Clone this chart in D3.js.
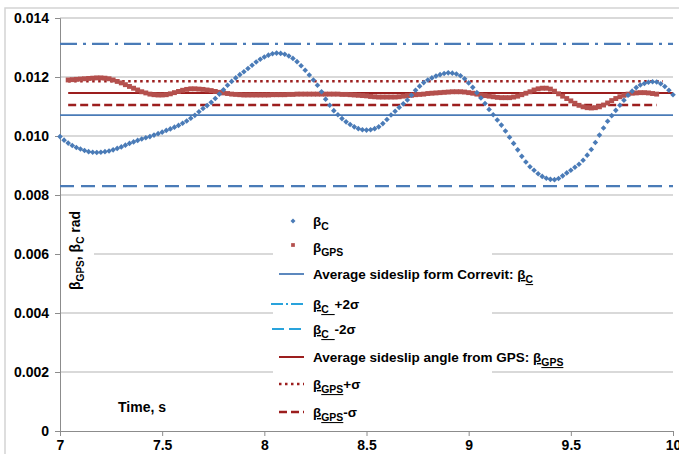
<!DOCTYPE html>
<html>
<head>
<meta charset="utf-8">
<script src="https://cdnjs.cloudflare.com/ajax/libs/d3/7.8.5/d3.min.js"></script>
<style>
  body { margin: 0; background: #fff; }
  svg { display: block; font-family: "Liberation Sans", Arial, sans-serif; }
</style>
</head>
<body>
<div id="chart"></div>
<script>
// sideslip from Correvit, sampled every 0.02 s from 7.00 s
const betaCStart = 7.0, betaCStep = 0.02;
const betaC = [
  0.00998, 0.00986, 0.00976, 0.00968, 0.00961, 0.00956, 0.00951, 0.00947, 0.00945, 0.00944,
  0.00945, 0.00947, 0.00949, 0.00953, 0.00958, 0.00963, 0.00969, 0.00975, 0.00980, 0.00985,
  0.00990, 0.00994, 0.00998, 0.01003, 0.01008, 0.01013, 0.01019, 0.01024, 0.01030, 0.01036,
  0.01043, 0.01051, 0.01060, 0.01070, 0.01082, 0.01093, 0.01103, 0.01114, 0.01127, 0.01142,
  0.01157, 0.01172, 0.01185, 0.01197, 0.01208, 0.01218, 0.01229, 0.01240, 0.01251, 0.01260,
  0.01268, 0.01274, 0.01279, 0.01281, 0.01280, 0.01277, 0.01271, 0.01263, 0.01252, 0.01238,
  0.01223, 0.01207, 0.01190, 0.01172, 0.01150, 0.01125, 0.01104, 0.01086, 0.01072, 0.01059,
  0.01048, 0.01039, 0.01031, 0.01025, 0.01021, 0.01020, 0.01021, 0.01025, 0.01031, 0.01042,
  0.01056, 0.01071, 0.01084, 0.01097, 0.01109, 0.01122, 0.01138, 0.01155, 0.01169, 0.01181,
  0.01190, 0.01197, 0.01203, 0.01208, 0.01212, 0.01214, 0.01213, 0.01210, 0.01204, 0.01194,
  0.01180, 0.01165, 0.01147, 0.01129, 0.01110, 0.01090, 0.01072, 0.01054, 0.01037, 0.01017,
  0.00996, 0.00975, 0.00953, 0.00931, 0.00912, 0.00896, 0.00884, 0.00872, 0.00863, 0.00857,
  0.00853, 0.00852, 0.00856, 0.00865, 0.00875, 0.00884, 0.00894, 0.00904, 0.00918, 0.00935,
  0.00954, 0.00978, 0.01003, 0.01027, 0.01050, 0.01069, 0.01087, 0.01104, 0.01121, 0.01138,
  0.01152, 0.01164, 0.01173, 0.01178, 0.01182, 0.01184, 0.01183, 0.01177, 0.01168, 0.01155,
  0.01140
];

// sideslip from GPS, sampled every 0.02 s from 7.04 s
const betaGPSStart = 7.04, betaGPSStep = 0.02;
const betaGPS = [
  0.01190, 0.01191, 0.01192, 0.01193, 0.01194, 0.01195, 0.01196, 0.01197, 0.01197, 0.01196,
  0.01194, 0.01190, 0.01185, 0.01180, 0.01174, 0.01168, 0.01162, 0.01156, 0.01150, 0.01146,
  0.01142, 0.01140, 0.01139, 0.01139, 0.01140, 0.01143, 0.01147, 0.01151, 0.01155, 0.01158,
  0.01160, 0.01160, 0.01159, 0.01158, 0.01156, 0.01154, 0.01151, 0.01148, 0.01146, 0.01144,
  0.01142, 0.01141, 0.01140, 0.01139, 0.01139, 0.01139, 0.01139, 0.01139, 0.01139, 0.01139,
  0.01140, 0.01140, 0.01140, 0.01140, 0.01141, 0.01141, 0.01142, 0.01142, 0.01142, 0.01142,
  0.01142, 0.01142, 0.01142, 0.01142, 0.01142, 0.01142, 0.01142, 0.01141, 0.01141, 0.01140,
  0.01139, 0.01138, 0.01137, 0.01136, 0.01134, 0.01133, 0.01132, 0.01132, 0.01132, 0.01132,
  0.01132, 0.01133, 0.01135, 0.01137, 0.01138, 0.01140, 0.01141, 0.01142, 0.01144, 0.01145,
  0.01146, 0.01147, 0.01148, 0.01149, 0.01150, 0.01150, 0.01150, 0.01149, 0.01147, 0.01145,
  0.01142, 0.01139, 0.01137, 0.01135, 0.01133, 0.01131, 0.01130, 0.01130, 0.01130, 0.01132,
  0.01135, 0.01140, 0.01145, 0.01150, 0.01156, 0.01160, 0.01162, 0.01162, 0.01159, 0.01152,
  0.01143, 0.01135, 0.01127, 0.01119, 0.01111, 0.01104, 0.01099, 0.01096, 0.01095, 0.01096,
  0.01099, 0.01105, 0.01112, 0.01120, 0.01127, 0.01133, 0.01138, 0.01142, 0.01145, 0.01146,
  0.01147, 0.01147, 0.01146, 0.01144, 0.01142
];

// horizontal reference levels: value, time span
const refNames = ["betaC +2s", "betaC -2s", "betaC avg", "betaGPS avg", "betaGPS +s", "betaGPS -s"];
const refValues = [0.01312, 0.00830, 0.01071, 0.01146, 0.01186, 0.01105];
const refFrom = [7.0, 7.0, 7.0, 7.04, 7.04, 7.04];
const refTo = [10.0, 10.0, 10.0, 10.0, 9.95, 9.92];

const xTicks = [7, 7.5, 8, 8.5, 9, 9.5, 10];
const yTicks = [0, 0.002, 0.004, 0.006, 0.008, 0.010, 0.012, 0.014];

const width = 679, height = 454;
const plot = { left: 60, right: 673, top: 18, bottom: 431 };

const blue = "#4a7bb7", lightBlue = "#29a3dc", gpsRed = "#b4504d", darkRed = "#9c1e1e";
const refStyles = [
  { color: blue, w: 2.2, dash: "17,6,3,6" },
  { color: blue, w: 2.2, dash: "14,7" },
  { color: blue, w: 1.8, dash: null },
  { color: darkRed, w: 2, dash: null },
  { color: darkRed, w: 2.5, dash: "2.5,3.5" },
  { color: darkRed, w: 2.5, dash: "8,4" }
];

const svg = d3.select("#chart").append("svg")
  .attr("width", width).attr("height", height)
  .attr("xml:space", "preserve");

// chart frame
svg.append("rect")
  .attr("x", 5).attr("y", 8).attr("width", 700).attr("height", 470)
  .attr("fill", "#fff").attr("stroke", "#d4d4d4").attr("stroke-width", 1.5);

const x = d3.scaleLinear().domain([7, 10]).range([plot.left, plot.right]);
const y = d3.scaleLinear().domain([0, 0.014]).range([plot.bottom, plot.top]);

// gridlines
svg.append("g")
  .selectAll("line")
  .data(yTicks.filter(d => d > 0))
  .join("line")
  .attr("x1", plot.left).attr("x2", plot.right)
  .attr("y1", d => y(d)).attr("y2", d => y(d))
  .attr("stroke", "#b3b3b3").attr("stroke-width", 1);

// axes
const yAxis = svg.append("g")
  .attr("transform", `translate(${plot.left},0)`)
  .call(d3.axisLeft(y).tickValues(yTicks).tickSize(5).tickPadding(6)
    .tickFormat(d => d === 0 ? "0" : d3.format(".3f")(d)));

const xAxis = svg.append("g")
  .attr("transform", `translate(0,${plot.bottom})`)
  .call(d3.axisBottom(x).tickValues(xTicks).tickFormat(d3.format("")).tickSize(5).tickPadding(4));

[xAxis, yAxis].forEach(a => {
  a.select(".domain").attr("stroke", "#8c8c8c");
  a.selectAll(".tick line").attr("stroke", "#8c8c8c");
  a.selectAll("text").attr("font-size", 14).attr("font-weight", "bold")
    .attr("fill", "#000").attr("font-family", "Liberation Sans, Arial, sans-serif");
});

// reference lines
svg.append("g")
  .selectAll("line")
  .data(refValues)
  .join("line")
  .attr("x1", (d, i) => x(refFrom[i])).attr("x2", (d, i) => x(refTo[i]))
  .attr("y1", d => y(d)).attr("y2", d => y(d))
  .attr("stroke", (d, i) => refStyles[i].color)
  .attr("stroke-width", (d, i) => refStyles[i].w)
  .attr("stroke-dasharray", (d, i) => refStyles[i].dash);

// GPS squares
const square = d3.symbol(d3.symbolSquare, 24);
svg.append("g")
  .selectAll("path")
  .data(betaGPS)
  .join("path")
  .attr("transform", (d, i) => `translate(${x(betaGPSStart + i * betaGPSStep)},${y(d)})`)
  .attr("d", square)
  .attr("fill", gpsRed);

// Correvit diamonds
const diamond = d3.symbol(d3.symbolDiamond2, 20);
svg.append("g")
  .selectAll("path")
  .data(betaC)
  .join("path")
  .attr("transform", (d, i) => `translate(${x(betaCStart + i * betaCStep)},${y(d)})`)
  .attr("d", diamond)
  .attr("fill", blue);

// rich text helper: parts = [{t, sub, u}]
function richText(sel, parts, size) {
  let shifted = false;
  parts.forEach(p => {
    const ts = sel.append("tspan").text(p.t);
    if (p.sub && !shifted) { ts.attr("dy", size * 0.28).attr("font-size", size * 0.72); shifted = true; }
    else if (p.sub) { ts.attr("font-size", size * 0.72); }
    else if (shifted) { ts.attr("dy", -size * 0.28); shifted = false; }
    if (p.u) ts.attr("text-decoration", "underline");
  });
}

// y axis title
svg.append("rect").attr("x", 61).attr("y", 198).attr("width", 33).attr("height", 94).attr("fill", "#fff");
const yTitle = svg.append("text")
  .attr("transform", "translate(80,290) rotate(-90)")
  .attr("font-size", 14).attr("font-weight", "bold");
richText(yTitle, [{ t: "β" }, { t: "GPS", sub: true }, { t: ", β" }, { t: "C", sub: true }, { t: "   rad" }], 14);

// x axis title
svg.append("text").attr("x", 118).attr("y", 412)
  .attr("font-size", 14).attr("font-weight", "bold").text("Time, s");

// legend
const legend = svg.append("g");
legend.append("rect").attr("x", 273).attr("y", 205).attr("width", 219).attr("height", 220).attr("fill", "#fff");

const legendItems = [
  { y: 221, kind: "diamond", parts: [{ t: "β" }, { t: "C", sub: true }] },
  { y: 247, kind: "square", parts: [{ t: "β" }, { t: "GPS", sub: true }] },
  { y: 274, kind: "line", ref: 2, color: blue, x0: 279, parts: [{ t: "Average sideslip form Correvit: " }, { t: "β", u: true }, { t: "C", sub: true, u: true }] },
  { y: 304, kind: "line", ref: 0, color: lightBlue, x0: 271, parts: [{ t: "β", u: true }, { t: "C_", sub: true, u: true }, { t: "+2σ" }] },
  { y: 329, kind: "line", ref: 1, color: lightBlue, x0: 272, parts: [{ t: "β", u: true }, { t: "C_", sub: true, u: true }, { t: "-2σ" }] },
  { y: 357, kind: "line", ref: 3, color: darkRed, x0: 279, parts: [{ t: "Average sideslip angle from GPS:  " }, { t: "β", u: true }, { t: "GPS", sub: true, u: true }] },
  { y: 384, kind: "line", ref: 4, color: darkRed, x0: 279, parts: [{ t: "β", u: true }, { t: "GPS", sub: true, u: true }, { t: "+σ" }] },
  { y: 412, kind: "line", ref: 5, color: darkRed, x0: 279, parts: [{ t: "β", u: true }, { t: "GPS", sub: true, u: true }, { t: "-σ" }] }
];

legendItems.forEach(it => {
  if (it.kind === "diamond") {
    legend.append("path").attr("transform", `translate(293,${it.y})`)
      .attr("d", d3.symbol(d3.symbolDiamond2, 16)).attr("fill", blue);
  } else if (it.kind === "square") {
    legend.append("path").attr("transform", `translate(293,${it.y - 2})`)
      .attr("d", d3.symbol(d3.symbolSquare, 14)).attr("fill", gpsRed);
  } else {
    const st = refStyles[it.ref];
    legend.append("line").attr("x1", it.x0).attr("x2", 304)
      .attr("y1", it.y).attr("y2", it.y)
      .attr("stroke", it.color).attr("stroke-width", st.w)
      .attr("stroke-dasharray", it.ref === 0 ? "12,3,2,3" : it.ref === 1 ? "12,5" : st.dash);
  }
  const t = legend.append("text").attr("x", 313).attr("y", it.y + 5)
    .attr("font-size", 13.5).attr("font-weight", "bold");
  richText(t, it.parts, 14.5);
});
</script>
</body>
</html>
